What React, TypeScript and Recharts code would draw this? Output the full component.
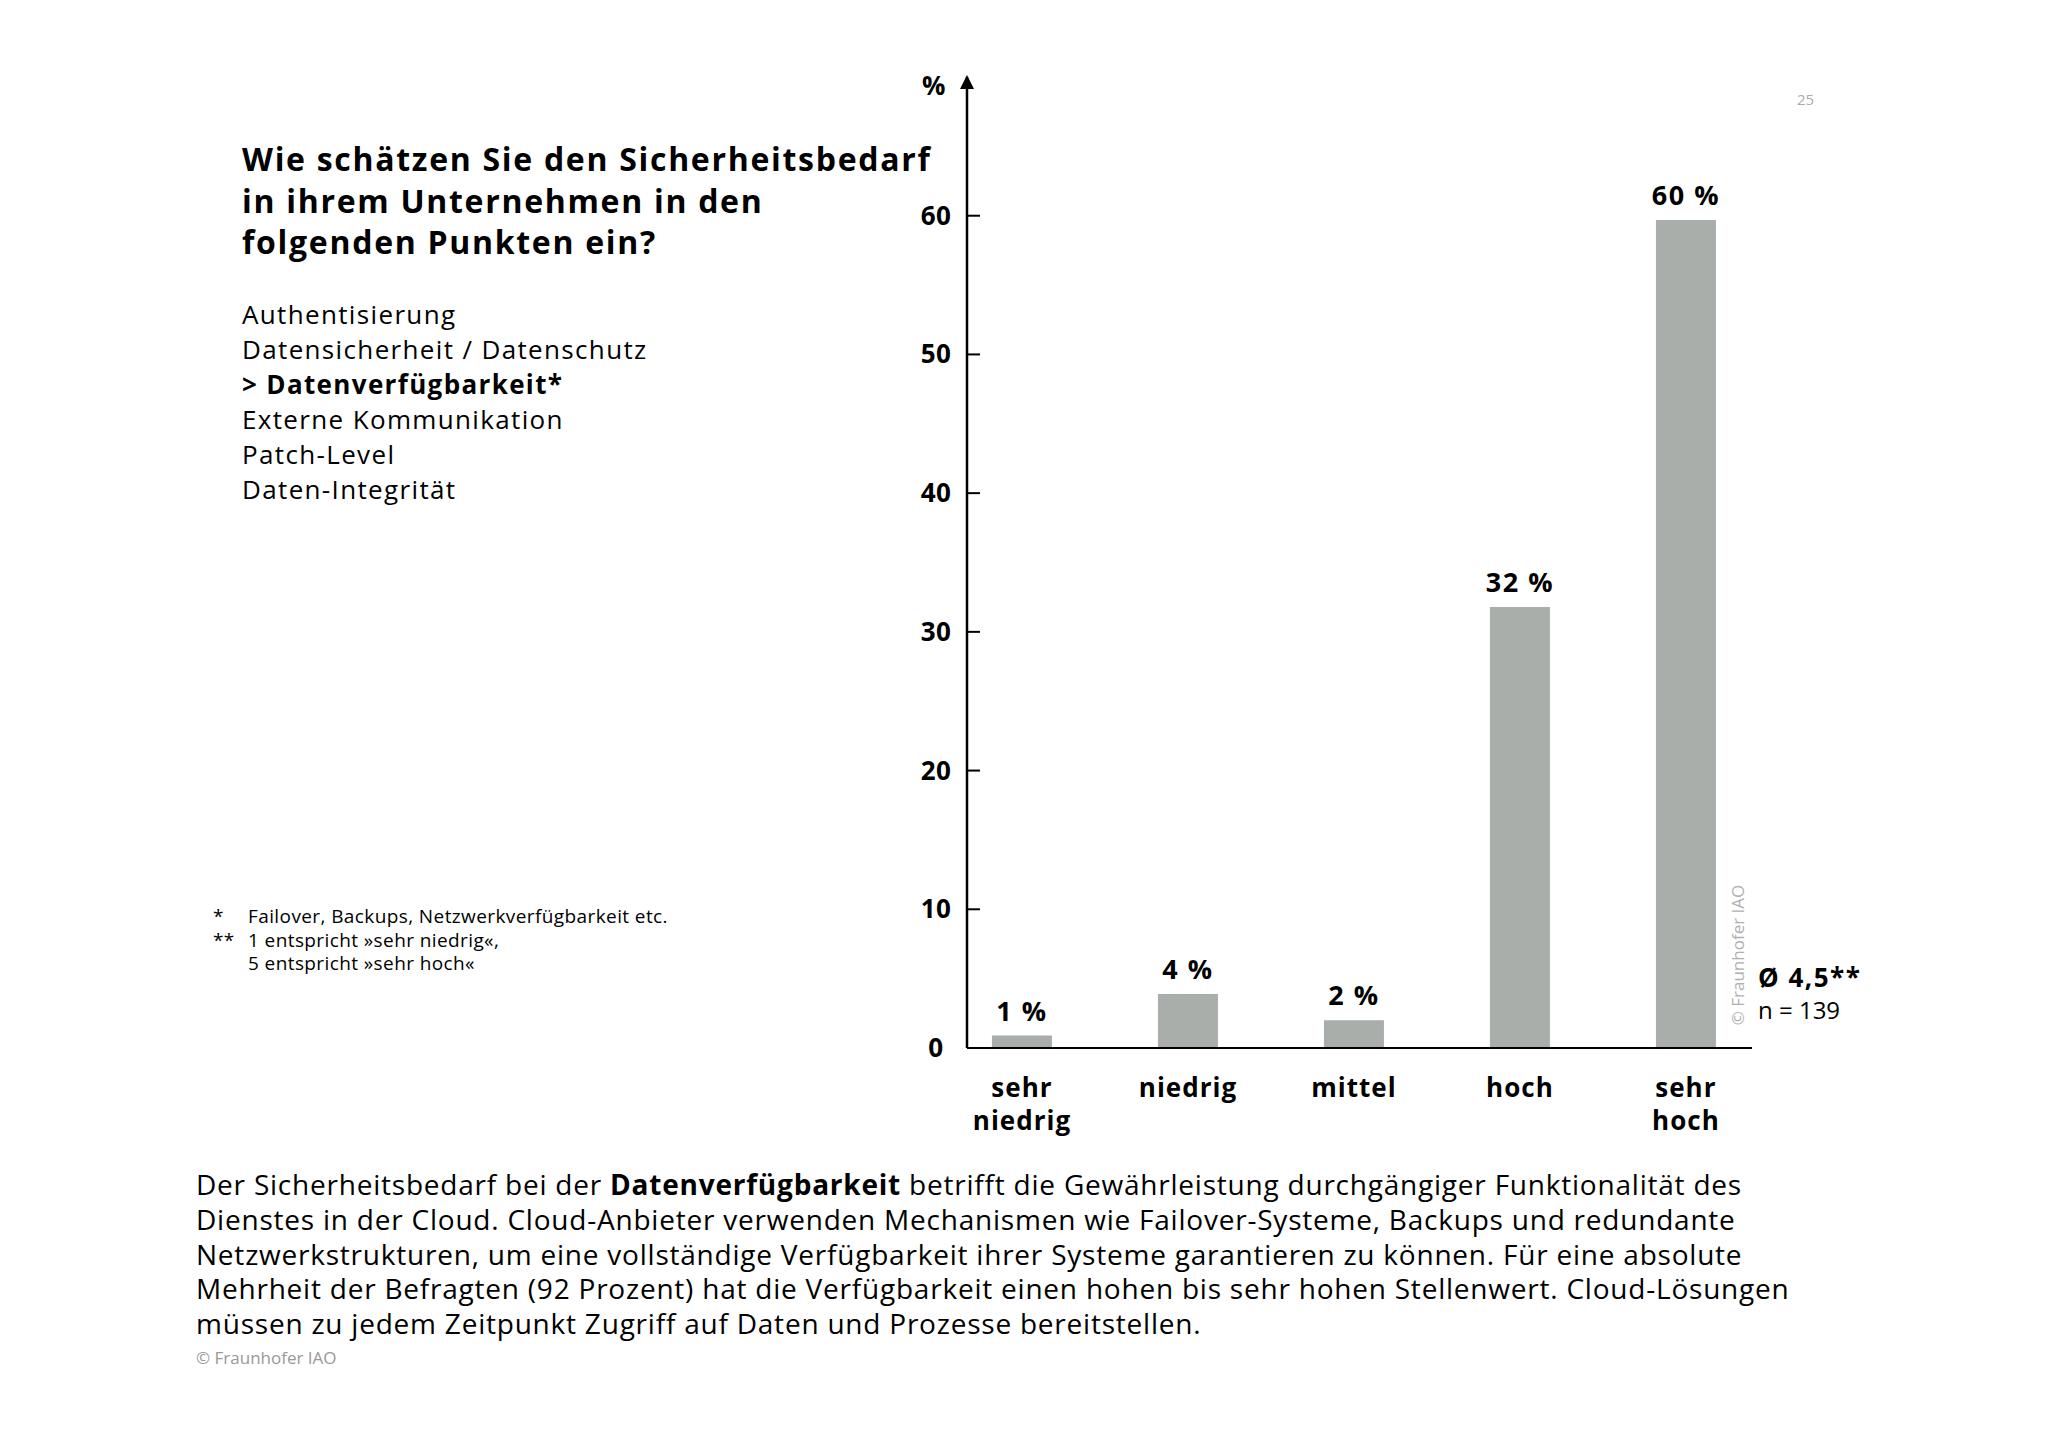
import React from "react";
import { BarChart, Bar, XAxis, YAxis, LabelList, ReferenceDot } from "recharts";

// answer categories (x axis) and share of respondents in %
const CATEGORIES = ["sehr\nniedrig", "niedrig", "mittel", "hoch", "sehr\nhoch"];
const VALUES = [0.9, 3.9, 2.0, 31.8, 59.7];
const VALUE_LABELS = ["1 %", "4 %", "2 %", "32 %", "60 %"];
const Y_TICKS = [0, 10, 20, 30, 40, 50, 60];
const Y_MAX = 70;
const X_DOMAIN: [number, number] = [-0.331, 4.398];

const TOPICS = [
  "Authentisierung",
  "Datensicherheit / Datenschutz",
  "> Datenverfügbarkeit*",
  "Externe Kommunikation",
  "Patch-Level",
  "Daten-Integrität",
];

const FONT = "'Open Sans', sans-serif";
const BAR_COLOR = "#a9aeab";

const data = VALUES.map((v, i) => ({ idx: i, value: v, label: VALUE_LABELS[i] }));

const YTick = (props: any) => {
  const { x, y, payload } = props;
  return (
    <g>
      <line x1={x} y1={y} x2={x + 13} y2={y} stroke="#000" strokeWidth={2} />
      <text x={x - 31} y={y + 9} textAnchor="middle" fontFamily={FONT} fontWeight={700} fontSize={26} letterSpacing={0.5} fill="#000">
        {payload.value}
      </text>
    </g>
  );
};

const XTick = (props: any) => {
  const { x, y, payload } = props;
  const lines = CATEGORIES[payload.value].split("\n");
  return (
    <g>
      {lines.map((l, i) => (
        <text key={i} x={x} y={y + 49 + i * 32.6} textAnchor="middle" fontFamily={FONT} fontWeight={700} fontSize={26} letterSpacing={1} fill="#000">
          {l}
        </text>
      ))}
    </g>
  );
};

const ValueLabel = (props: any) => {
  const { x, y, width, value } = props;
  return (
    <text x={x + width / 2} y={y - 15} textAnchor="middle" fontFamily={FONT} fontWeight={700} fontSize={27} letterSpacing={1.5} fill="#000">
      {value}
    </text>
  );
};

const Arrow = (props: any) => {
  const { cx, cy } = props;
  const t = cy - 2;
  return <path d={`M${cx},${t} L${cx + 7},${t + 14} L${cx - 7},${t + 14} Z`} fill="#000" />;
};

const abs = (left: number, top: number, extra: React.CSSProperties = {}): React.CSSProperties => ({
  position: "absolute",
  left,
  top,
  fontFamily: FONT,
  color: "#000",
  whiteSpace: "nowrap",
  ...extra,
});

export default function App() {
  return (
    <div style={{ position: "absolute", left: 0, top: 0, width: 2048, height: 1448, background: "#fff", overflow: "hidden" }}>
      <div style={{ position: "absolute", left: 0, top: 0 }}>
        <BarChart width={2048} height={1448} data={data} margin={{ top: 77, right: 296, bottom: 310, left: 887 }}>
          <XAxis
            type="number"
            dataKey="idx"
            domain={X_DOMAIN}
            ticks={[0, 1, 2, 3, 4]}
            allowDataOverflow
            height={90}
            tickSize={0}
            tickMargin={0}
            tickLine={false}
            axisLine={{ stroke: "#000", strokeWidth: 2 }}
            tick={<XTick />}
          />
          <YAxis
            type="number"
            domain={[0, Y_MAX]}
            ticks={Y_TICKS}
            width={80}
            tickSize={0}
            tickMargin={0}
            tickLine={false}
            axisLine={{ stroke: "#000", strokeWidth: 2.5 }}
            tick={<YTick />}
            interval={0}
          />
          <Bar dataKey="value" fill={BAR_COLOR} barSize={60} isAnimationActive={false}>
            <LabelList dataKey="label" content={<ValueLabel />} />
          </Bar>
          <ReferenceDot x={X_DOMAIN[0]} y={Y_MAX} ifOverflow="visible" shape={<Arrow />} />
        </BarChart>
      </div>

      {/* axis unit */}
      <div style={abs(922, 68, { fontSize: 26, fontWeight: 700, lineHeight: "34px" })}>%</div>

      {/* page number */}
      <div style={abs(1797, 88, { fontSize: 15, color: "#aaa", lineHeight: "22px" })}>25</div>

      {/* question */}
      <div style={abs(242, 138, { fontSize: 32, fontWeight: 700, lineHeight: "41.5px", letterSpacing: 1.7 })}>
        <div>Wie schätzen Sie den Sicherheitsbedarf</div>
        <div>in ihrem Unternehmen in den</div>
        <div>folgenden Punkten ein?</div>
      </div>

      <div style={abs(242, 297, { fontSize: 26, lineHeight: "35px", letterSpacing: 1.35 })}>
        {TOPICS.map((t, i) => (
          <div key={i} style={{ fontWeight: i === 2 ? 700 : 400 }}>{t}</div>
        ))}
      </div>

      {/* footnotes */}
      <div style={abs(213, 905, { fontSize: 19, lineHeight: "23.5px", letterSpacing: 0.4 })}>
        <div><span style={{ display: "inline-block", width: 35 }}>*</span>Failover, Backups, Netzwerkverfügbarkeit etc.</div>
        <div><span style={{ display: "inline-block", width: 35 }}>**</span>1 entspricht »sehr niedrig«,</div>
        <div><span style={{ display: "inline-block", width: 35 }}></span>5 entspricht »sehr hoch«</div>
      </div>

      {/* mean and sample size */}
      <div style={abs(1758, 960, { fontSize: 26, fontWeight: 700, lineHeight: "34px", letterSpacing: 1.5 })}>Ø 4,5**</div>
      <div style={abs(1758, 995, { fontSize: 24, lineHeight: "30px" })}>n = 139</div>

      {/* rotated copyright */}
      <div style={abs(1738, 955, { fontSize: 17, color: "#b0b0b0", lineHeight: "20px", transform: "translate(-50%, -50%) rotate(-90deg)" })}>
        © Fraunhofer IAO
      </div>

      {/* description */}
      <div style={abs(196, 1167, { fontSize: 28, lineHeight: "34.8px", letterSpacing: 0.78 })}>
        <div>Der Sicherheitsbedarf bei der <b>Datenverfügbarkeit</b> betrifft die Gewährleistung durchgängiger Funktionalität des</div>
        <div>Dienstes in der Cloud. Cloud-Anbieter verwenden Mechanismen wie Failover-Systeme, Backups und redundante</div>
        <div>Netzwerkstrukturen, um eine vollständige Verfügbarkeit ihrer Systeme garantieren zu können. Für eine absolute</div>
        <div>Mehrheit der Befragten (92 Prozent) hat die Verfügbarkeit einen hohen bis sehr hohen Stellenwert. Cloud-Lösungen</div>
        <div>müssen zu jedem Zeitpunkt Zugriff auf Daten und Prozesse bereitstellen.</div>
      </div>
      <div style={abs(196, 1347, { fontSize: 17, color: "#999", lineHeight: "22px" })}>© Fraunhofer IAO</div>
    </div>
  );
}
